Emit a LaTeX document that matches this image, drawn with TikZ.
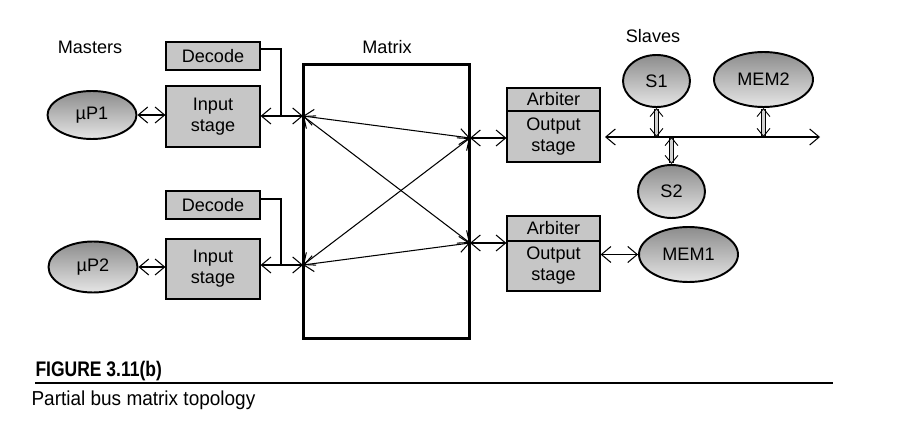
\documentclass[tikz,border=0pt]{standalone}
\usepackage{graphicx}
\usepackage{fontspec}
\setmainfont{Liberation Sans}
\usetikzlibrary{shapes.geometric, arrows.meta}
\newcommand{\cond}[2]{\scalebox{#1}[1]{#2}}

\begin{document}
\begin{tikzpicture}[x=0.02cm, y=-0.02cm, line width=0.6pt,
    >={Straight Barb[length=1.9mm, width=3.2mm]},
    every node/.style={font=\fontsize{10.3}{12}\selectfont, align=center, inner sep=0pt},
    blk/.style={draw, fill=gray!45, line width=0.7pt, minimum width=1.88cm},
    ell/.style={ellipse, draw, line width=1.1pt, top color=gray!90, bottom color=gray!20},
    buslink/.style={double=gray!35, double distance=1.5pt, line width=0.5pt}]
    \useasboundingbox (0,0) rectangle (899,422);

    % Knoten.
    \node (masters) at (90,47) {Masters};
    \node (matrixlbl) at (387,47) {Matrix};
    \node (slaves) at (653,36) {Slaves};

    \node[ell, minimum width=1.78cm, minimum height=0.96cm] (mp1) at (92,115) {µP1};
    \node[ell, minimum width=1.78cm, minimum height=1.02cm] (mp2) at (93,267) {µP2};

    \node[blk, minimum height=0.56cm] (dec1) at (213,56) {Decode};
    \node[blk, minimum height=1.22cm] (in1) at (213,116.5) {Input\\stage};
    \node[blk, minimum height=0.56cm] (dec2) at (213,205) {Decode};
    \node[blk, minimum height=1.20cm] (in2) at (213,269) {Input\\stage};

    \node[draw, line width=1.7pt, minimum width=3.34cm, minimum height=5.5cm] (mtx) at (386.5,201.5) {};

    \node[blk, minimum width=1.86cm, minimum height=0.46cm] (arb1) at (553.5,99.5) {Arbiter};
    \node[blk, minimum width=1.86cm, minimum height=1.02cm] (out1) at (553.5,136.5) {Output\\stage};
    \node[blk, minimum width=1.86cm, minimum height=0.50cm] (arb2) at (553.5,228.5) {Arbiter};
    \node[blk, minimum width=1.86cm, minimum height=1.00cm] (out2) at (553.5,266) {Output\\stage};

    \node[ell, minimum width=1.34cm, minimum height=1.04cm] (s1) at (656.5,81) {S1};
    \node[ell, minimum width=1.98cm, minimum height=1.10cm] (mem2) at (763.5,79.5) {MEM2};
    \node[ell, minimum width=1.34cm, minimum height=1.06cm] (s2) at (671.5,191.5) {S2};
    \node[ell, minimum width=1.98cm, minimum height=1.10cm] (mem1) at (688.5,254.5) {MEM1};

    % Punkte.
    \coordinate (m1) at (303,116);
    \coordinate (m2) at (303,265);
    \coordinate (q1) at (470,138);
    \coordinate (q2) at (470,243);
    \coordinate (d1) at (260,49);
    \coordinate (d2) at (260,199);
    \coordinate (j1) at (281,116);
    \coordinate (j2) at (281,265);
    \coordinate (busL) at (605,137);
    \coordinate (busR) at (820,137);

    % Linien.
    \draw[<->] (mp1.east) -- (in1.west |- mp1.east);
    \draw[<->] (mp2.east) -- (in2.west |- mp2.east);
    \draw[<->] (in1.east |- m1) -- (m1);
    \draw[<->] (in2.east |- m2) -- (m2);
    \draw (d1) -| (j1);
    \draw (d2) -| (j2);

    \foreach \a in {m1,m2}
    {
        \foreach \b in {q1,q2}
        {
            \draw[<->] (\a) -- (\b);
        }
    }

    \draw[<->] (q1) -- (out1.west |- q1);
    \draw[<->] (q2) -- (out2.west |- q2);

    \draw[<->] (busL) -- (busR);
    \draw[buslink, {Straight Barb[length=1.6mm, width=2.6mm]}-{Straight Barb[length=1.6mm, width=2.6mm]}] (s1.south) -- (s1.south |- busL);
    \draw[buslink, {Straight Barb[length=1.6mm, width=2.6mm]}-{Straight Barb[length=1.6mm, width=2.6mm]}] (mem2.south) -- (mem2.south |- busL);
    \draw[buslink, {Straight Barb[length=1.6mm, width=2.6mm]}-{Straight Barb[length=1.6mm, width=2.6mm]}] (s2.north) -- (s2.north |- busL);
    \draw[<->] (out2.east |- mem1.west) -- (mem1.west);

    % Beschriftung.
    \node[anchor=base west, font=\fontsize{12}{13}\bfseries\selectfont] (fig) at (35,376) {\cond{0.83}{FIGURE 3.11(b)}};
    \draw[line width=0.6pt] (35,383) -- (833,383);
    \node[anchor=base west, font=\fontsize{11.5}{14}\selectfont] (caption) at (31,405) {\cond{0.94}{Partial bus matrix topology}};
\end{tikzpicture}
\end{document}
